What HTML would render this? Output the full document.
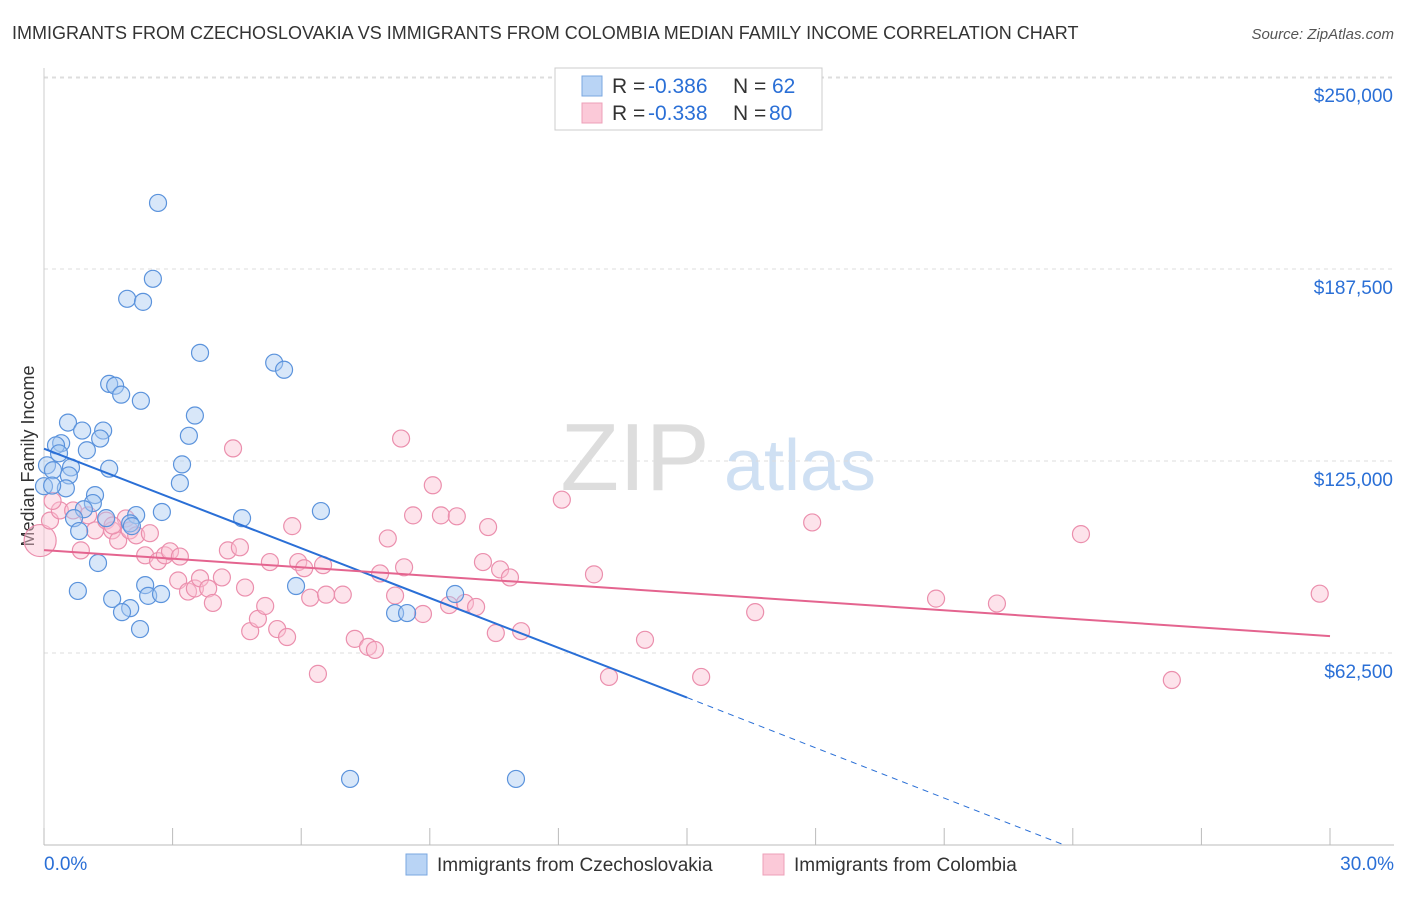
<!DOCTYPE html>
<html><head><meta charset="utf-8"><style>
body{margin:0;background:#fff;font-family:"Liberation Sans",sans-serif;}
svg text{font-family:"Liberation Sans",sans-serif;}
</style></head><body>
<svg width="1406" height="892" id="c">
<text x="12" y="39" font-size="18" fill="#333">IMMIGRANTS FROM CZECHOSLOVAKIA VS IMMIGRANTS FROM COLOMBIA MEDIAN FAMILY INCOME CORRELATION CHART</text>
<text x="1394" y="39" font-size="15" fill="#555" text-anchor="end" font-style="italic">Source: ZipAtlas.com</text>
<text x="34" y="456" font-size="18" fill="#333" text-anchor="middle" transform="rotate(-90 34 456)">Median Family Income</text>
<g><text x="635" y="490" font-size="96" fill="#ddd" text-anchor="middle" font-family="Liberation Serif">ZIP</text><text x="800" y="490" font-size="72" fill="#cfe0f3" text-anchor="middle">atlas</text></g>
<g id="grid"></g><g id="marks"></g>
<g>
<rect x="555" y="68" width="267" height="62" fill="#fff" stroke="#ccc"/>
<rect x="582" y="76" width="20" height="20" fill="#b9d4f5" stroke="#7aa7e0"/>
<rect x="582" y="103" width="20" height="20" fill="#fbc9d8" stroke="#eea0b8"/>
<text x="612" y="93" font-size="21" fill="#333">R =</text><text x="648" y="93" font-size="21" fill="#2a6fd6">-0.386</text>
<text x="733" y="93" font-size="21" fill="#333">N =</text><text x="772" y="93" font-size="21" fill="#2a6fd6">62</text>
<text x="612" y="120" font-size="21" fill="#333">R =</text><text x="648" y="120" font-size="21" fill="#2a6fd6">-0.338</text>
<text x="733" y="120" font-size="21" fill="#333">N =</text><text x="769" y="120" font-size="21" fill="#2a6fd6">80</text>
</g>
<g>
<rect x="406" y="854" width="21" height="21" fill="#b9d4f5" stroke="#7aa7e0"/>
<text x="437" y="871" font-size="19" fill="#333">Immigrants from Czechoslovakia</text>
<rect x="763" y="854" width="21" height="21" fill="#fbc9d8" stroke="#eea0b8"/>
<text x="794" y="871" font-size="19" fill="#333">Immigrants from Colombia</text>
</g>
</svg>
<script>
const yTicks=[62500,125000,187500,250000];
const yTickLabels=["$62,500","$125,000","$187,500","$250,000"];
const xTicks=[0,3,6,9,12,15,18,21,24,27,30];
const blueX=[2.66,2.54,1.94,2.31,3.64,5.37,5.6,1.52,1.66,1.8,2.26,3.52,0.56,0.89,1.38,1.31,3.38,0.4,0.28,1.0,0.35,0.07,3.22,0.63,1.52,0.21,0.58,3.17,0.51,0.0,1.19,1.14,6.46,0.93,0.7,2.15,2.75,1.45,4.62,2.01,2.05,0.82,1.26,5.88,2.36,0.79,1.59,2.43,2.73,9.59,2.01,1.82,8.19,8.47,2.24,7.14,11.01,0.19];
const blueY=[209000,184300,177800,176800,160200,157000,154700,150100,149500,146600,144600,139800,137500,134900,134900,132300,133200,130800,130100,128500,127500,123600,123900,122900,122500,122000,120300,117800,116100,116800,113900,111300,108700,109300,106400,107400,108400,106400,106400,104700,103800,102200,91800,84300,84600,82700,80100,81100,81700,81700,77100,75800,75500,75500,70300,21500,21500,117000];
const pinkX=[-0.09,0.14,0.37,0.68,1.03,0.86,1.19,1.45,1.59,1.73,1.91,2.0,2.15,2.36,2.47,2.66,2.82,2.94,3.17,3.13,3.36,3.52,3.64,3.83,3.94,4.15,4.29,4.57,4.41,4.69,4.81,4.99,5.16,5.27,5.44,5.67,5.79,5.93,6.07,6.21,6.39,6.51,6.58,6.97,7.25,7.56,7.72,7.84,8.02,8.19,8.33,8.4,8.61,8.84,9.07,9.26,9.45,9.63,9.82,10.08,10.24,10.36,10.54,10.64,10.87,11.13,12.08,12.83,14.02,13.18,15.33,16.59,17.92,20.81,22.23,24.19,26.31,29.76,0.2,1.6];
const pinkY=[99100,105600,108900,108900,107300,95900,102400,105600,102400,99100,106300,102400,100800,94300,101500,92400,94300,95600,93900,86100,82500,83500,86800,83500,78800,87100,95900,96900,129100,83800,69600,73600,77800,92100,70300,67700,103800,92100,90100,80500,55700,91100,81500,81500,67100,64500,63500,88400,99800,81200,132300,90400,107300,75200,117100,107300,78100,107000,78800,77500,92100,103500,69000,89700,87100,69600,112400,88100,66800,54700,54700,75800,105000,80200,78600,101200,53700,81800,112000,104000];
const blueLine=[[0,129000],[15,48000],[23.8,0]];
const pinkLine=[[0,96000],[30,68000]];
const X=v=>44+v*42.867, Y=v=>845-v*192/62500;
const NS="http://www.w3.org/2000/svg";
const g=document.getElementById('grid'), m=document.getElementById('marks');
function mk(p,t,a){const e=document.createElementNS(NS,t);for(const k in a)e.setAttribute(k,a[k]);p.appendChild(e);return e;}
yTicks.forEach((v,i)=>{
 const l=mk(g,'line',{x1:44,x2:1394,y1:Y(v),y2:Y(v),stroke:'#ddd','stroke-dasharray':'4,4'});
 
 
 const t=mk(g,'text',{x:1393,y:Y(v)+25,'font-size':19,fill:'#2a6fd6','text-anchor':'end'});t.textContent=yTickLabels[i];
 
 
});
const topLine=mk(g,'line',{x1:44,x2:1394,y1:78,y2:78,stroke:'#ddd','stroke-dasharray':'4,4'});


const ax=mk(g,'line',{x1:44,x2:1394,y1:845,y2:845,stroke:'#bbb'});


mk(g,'line',{x1:44,x2:44,y1:68,y2:845,stroke:'#ccc'});
xTicks.forEach(v=>{const l=mk(g,'line',{x1:X(v),x2:X(v),y1:828,y2:845,stroke:'#bbb'});
 
 });
let t0=mk(g,'text',{x:44,y:870,'font-size':19,fill:'#2a6fd6'});t0.textContent='0.0%';
let t1=mk(g,'text',{x:1394,y:870,'font-size':19,fill:'#2a6fd6','text-anchor':'end'});t1.textContent='30.0%';
function dots(xs,ys,fill,stroke,name,big){xs.forEach((x,i)=>{const c=mk(m,'circle',{cx:X(x),cy:Y(ys[i]),r:(big&&i===0)?16:8.5,fill:fill,'fill-opacity':0.45,stroke:stroke,'stroke-width':1.2});
 
 });}
dots(pinkX,pinkY,'#fbc1d3','#eb8fad','colombia-point',true);
dots(blueX,blueY,'#a9c9f2','#5b93dc','czechoslovakia-point',false);
const bl=mk(m,'line',{x1:X(blueLine[0][0]),y1:Y(blueLine[0][1]),x2:X(blueLine[1][0]),y2:Y(blueLine[1][1]),stroke:'#2a6fd6','stroke-width':2});


const bd=mk(m,'line',{x1:X(blueLine[1][0]),y1:Y(blueLine[1][1]),x2:X(blueLine[2][0]),y2:Y(blueLine[2][1]),stroke:'#2a6fd6','stroke-width':1,'stroke-dasharray':'6,5'});


const pl=mk(m,'line',{x1:X(pinkLine[0][0]),y1:Y(pinkLine[0][1]),x2:X(pinkLine[1][0]),y2:Y(pinkLine[1][1]),stroke:'#e4648f','stroke-width':2});


</script>
</body></html>
